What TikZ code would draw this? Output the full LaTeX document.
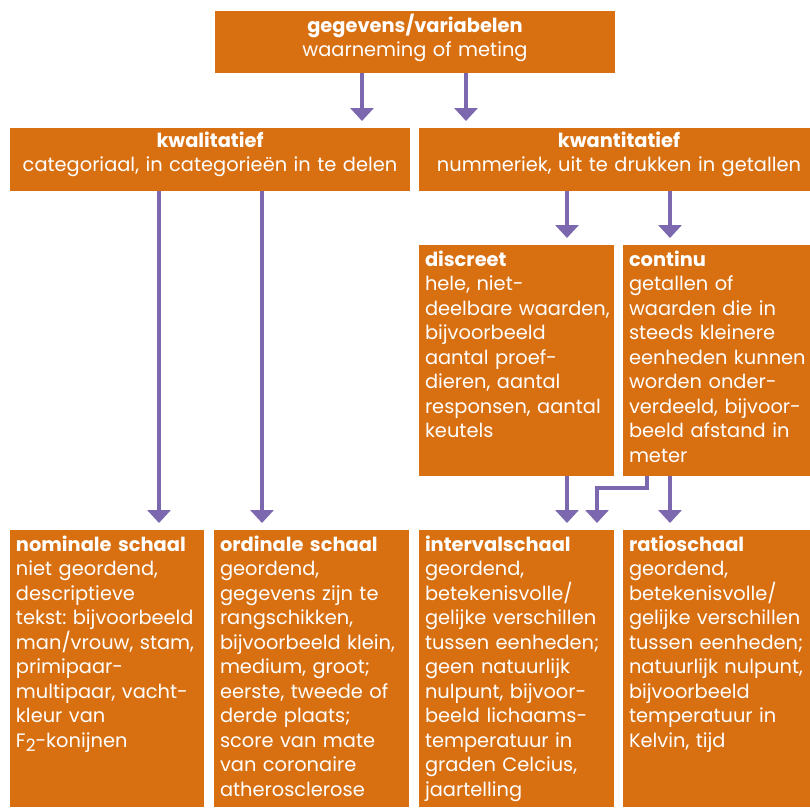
\documentclass[tikz,border=0pt]{standalone}
\usepackage{fontspec}
\setmainfont{Poppins}
\usetikzlibrary{arrows.meta}
\frenchspacing
\definecolor{boxor}{HTML}{D87012}
\definecolor{arrpu}{HTML}{7B68AE}
\tikzset{
  box/.style={fill=boxor, draw=none, anchor=north west, inner sep=0pt, outer sep=0pt},
  txt/.style={text=white, inner sep=0pt, outer sep=0pt, anchor=north west, align=left, text width=240pt,
    font=\fontsize{19.4}{24.5}\selectfont},
  ctxt/.style={text=white, inner sep=0pt, outer sep=0pt, anchor=north, align=center, text width=400pt,
    font=\fontsize{19.4}{24}\selectfont},
  arr/.style={draw=arrpu, line width=4pt, -{Triangle[width=23pt,length=13pt]}, shorten >=7pt}
}
\newcommand{\fl}{\rule{0pt}{21pt}}
\begin{document}
\begin{tikzpicture}[x=1pt,y=-1pt]
\useasboundingbox (0,0) rectangle (810,807);
% boxes
\node[box, minimum width=400pt, minimum height=62pt] (top) at (215,11) {};
\node[box, minimum width=400pt, minimum height=63pt] (kwal) at (10,128) {};
\node[box, minimum width=391pt, minimum height=63pt] (kwan) at (419,128) {};
\node[box, minimum width=195pt, minimum height=231pt] (disc) at (419,245) {};
\node[box, minimum width=187pt, minimum height=231pt] (cont) at (623,245) {};
\node[box, minimum width=194pt, minimum height=277pt] (nom) at (10,530) {};
\node[box, minimum width=195pt, minimum height=277pt] (ord) at (214,530) {};
\node[box, minimum width=195pt, minimum height=277pt] (int) at (419,530) {};
\node[box, minimum width=187pt, minimum height=277pt] (rat) at (623,530) {};
% texts
\node[ctxt] (topT) at (415,11) {\fl\textbf{gegevens/variabelen}\\waarneming of meting};
\node[ctxt] (kwalT) at (210,126) {\fl\textbf{kwalitatief}\\categoriaal, in categorieën in te delen};
\node[ctxt] (kwanT) at (619,126) {\fl\textbf{kwantitatief}\\nummeriek, uit te drukken in getallen};
\node[txt] (discT) at (425,245) {\fl\textbf{discreet}\\hele, niet-\\deelbare waarden,\\bijvoorbeeld\\aantal proef-\\dieren, aantal\\responsen, aantal\\keutels};
\node[txt] (contT) at (629,245) {\fl\textbf{continu}\\getallen of\\waarden die in\\steeds kleinere\\eenheden kunnen\\worden onder-\\verdeeld, bijvoor-\\beeld afstand in\\meter};
\node[txt] (nomT) at (16,530) {\fl\textbf{nominale schaal}\\niet geordend,\\descriptieve\\tekst: bijvoorbeeld\\man/vrouw, stam,\\primipaar-\\multipaar, vacht-\\kleur van\\F\raisebox{-4pt}{\fontsize{17}{17}\selectfont 2}-konijnen};
\node[txt] (ordT) at (220,530) {\fl\textbf{ordinale schaal}\\geordend,\\gegevens zijn te\\rangschikken,\\bijvoorbeeld klein,\\medium, groot;\\eerste, tweede of\\derde plaats;\\score van mate\\van coronaire\\atherosclerose};
\node[txt] (intT) at (425,530) {\fl\textbf{intervalschaal}\\geordend,\\betekenisvolle/\\gelijke verschillen\\tussen eenheden;\\geen natuurlijk\\nulpunt, bijvoor-\\beeld lichaams-\\temperatuur in\\graden Celcius,\\jaartelling};
\node[txt] (ratT) at (629,530) {\fl\textbf{ratioschaal}\\geordend,\\betekenisvolle/\\gelijke verschillen\\tussen eenheden;\\natuurlijk nulpunt,\\bijvoorbeeld\\temperatuur in\\Kelvin, tijd};
% connector x positions
\coordinate (xa) at (362,0);
\coordinate (xb) at (466,0);
\coordinate (xc) at (159,0);
\coordinate (xd) at (262,0);
\coordinate (xe) at (567,0);
\coordinate (xf) at (670,0);
\coordinate (xg) at (647,0);
\coordinate (xh) at (597,0);
\coordinate (bend1) at (647,488);
\coordinate (bend2) at (597,488);
% connectors
\draw[arr] (top.south -| xa) -- (kwal.north -| xa);
\draw[arr] (top.south -| xb) -- (kwan.north -| xb);
\draw[arr] (kwal.south -| xc) -- (nom.north -| xc);
\draw[arr] (kwal.south -| xd) -- (ord.north -| xd);
\draw[arr] (kwan.south -| xe) -- (disc.north -| xe);
\draw[arr] (kwan.south -| xf) -- (cont.north -| xf);
\draw[arr] (disc.south -| xe) -- (int.north -| xe);
\draw[arr] (cont.south -| xf) -- (rat.north -| xf);
\draw[arr, line join=miter] (cont.south -| xg) -- (bend1) -- (bend2) -- (int.north -| xh);
\end{tikzpicture}
\end{document}
